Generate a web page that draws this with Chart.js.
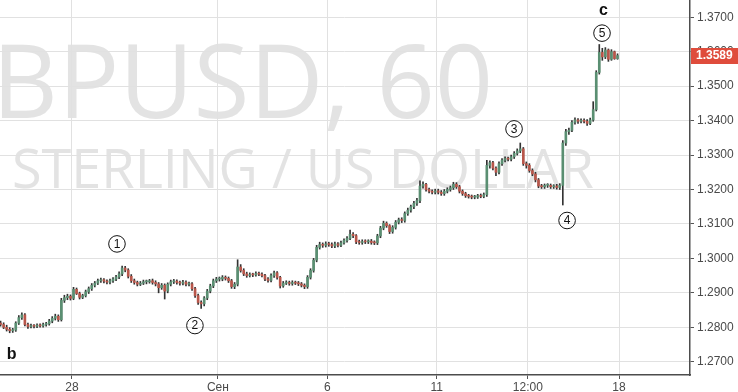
<!DOCTYPE html>
<html>
<head>
<meta charset="utf-8">
<script src="https://cdn.jsdelivr.net/npm/chart.js@4/dist/chart.umd.min.js"></script>
<style>
  html, body { margin: 0; padding: 0; background: #fff; }
  #chart { display: block; }
</style>
</head>
<body>
<canvas id="chart" width="738" height="392"></canvas>
<script>
// GBPUSD, 2-часовые свечи, 24 авг – 15 сен (торговое время, выходные убраны)
var firstOpen = 1.2812;
var closes = [
  1.2808, 1.2800, 1.2794, 1.2790, 1.2792, 1.2812, 1.2828, 1.2836, 1.2808, 1.2802, 1.2804, 1.2803, // 24 авг
  1.2806, 1.2804, 1.2808, 1.2810, 1.2818, 1.2826, 1.2832, 1.2822, 1.2878, 1.2886, 1.2890, 1.2884, // 25
  1.2910, 1.2898, 1.2887, 1.2892, 1.2903, 1.2912, 1.2922, 1.2928, 1.2935, 1.2938, 1.2934, 1.2931, // 28
  1.2935, 1.2940, 1.2946, 1.2955, 1.2972, 1.2966, 1.2948, 1.2935, 1.2930, 1.2925, 1.2928, 1.2932, // 29
  1.2932, 1.2935, 1.2930, 1.2926, 1.2915, 1.2922, 1.2905, 1.2925, 1.2932, 1.2934, 1.2930, 1.2928, // 30
  1.2931, 1.2925, 1.2926, 1.2912, 1.2892, 1.2872, 1.2868, 1.2885, 1.2905, 1.2920, 1.2935, 1.2940, // 31
  1.2940, 1.2945, 1.2942, 1.2935, 1.2918, 1.2925, 1.2975, 1.2965, 1.2955, 1.2950, 1.2953, 1.2952, // 1 сен
  1.2956, 1.2954, 1.2950, 1.2940, 1.2936, 1.2950, 1.2958, 1.2945, 1.2920, 1.2928, 1.2930, 1.2927, // 4
  1.2930, 1.2928, 1.2926, 1.2922, 1.2918, 1.2945, 1.2965, 1.2995, 1.3032, 1.3040, 1.3038, 1.3042, // 5
  1.3040, 1.3036, 1.3042, 1.3038, 1.3045, 1.3052, 1.3058, 1.3070, 1.3066, 1.3048, 1.3046, 1.3049, // 6
  1.3048, 1.3050, 1.3046, 1.3045, 1.3065, 1.3088, 1.3102, 1.3095, 1.3078, 1.3090, 1.3105, 1.3112, // 7
  1.3110, 1.3130, 1.3140, 1.3150, 1.3160, 1.3168, 1.3210, 1.3215, 1.3200, 1.3195, 1.3192, 1.3196, // 8
  1.3192, 1.3188, 1.3195, 1.3200, 1.3205, 1.3215, 1.3208, 1.3195, 1.3188, 1.3182, 1.3180, 1.3178, // 11
  1.3178, 1.3182, 1.3180, 1.3185, 1.3270, 1.3278, 1.3262, 1.3250, 1.3275, 1.3285, 1.3290, 1.3288, // 12
  1.3295, 1.3305, 1.3312, 1.3318, 1.3275, 1.3270, 1.3255, 1.3245, 1.3228, 1.3210, 1.3208, 1.3212, // 13
  1.3212, 1.3208, 1.3210, 1.3206, 1.3212, 1.3335, 1.3368, 1.3372, 1.3395, 1.3402, 1.3398, 1.3400, // 14
  1.3398, 1.3392, 1.3402, 1.3432, 1.3540, 1.3598, 1.3585, 1.3605, 1.3578, 1.3600, 1.3580, 1.3589  // 15
];
var highs = [
  1.2818, 1.2813, 1.2806, 1.2799, 1.2797, 1.2816, 1.2834, 1.2842, 1.2840, 1.2812, 1.2809, 1.2808,
  1.2810, 1.2810, 1.2812, 1.2814, 1.2823, 1.2831, 1.2838, 1.2836, 1.2884, 1.2893, 1.2896, 1.2894,
  1.2916, 1.2914, 1.2902, 1.2896, 1.2908, 1.2917, 1.2927, 1.2933, 1.2940, 1.2943, 1.2941, 1.2938,
  1.2940, 1.2944, 1.2951, 1.2961, 1.2978, 1.2977, 1.2970, 1.2953, 1.2940, 1.2934, 1.2933, 1.2937,
  1.2937, 1.2939, 1.2940, 1.2935, 1.2930, 1.2927, 1.2926, 1.2929, 1.2937, 1.2939, 1.2938, 1.2934,
  1.2936, 1.2935, 1.2931, 1.2930, 1.2916, 1.2896, 1.2877, 1.2889, 1.2910, 1.2925, 1.2940, 1.2945,
  1.2946, 1.2950, 1.2949, 1.2946, 1.2939, 1.2930, 1.2996, 1.2982, 1.2970, 1.2960, 1.2958, 1.2957,
  1.2961, 1.2960, 1.2958, 1.2954, 1.2944, 1.2955, 1.2963, 1.2962, 1.2948, 1.2933, 1.2935, 1.2934,
  1.2935, 1.2934, 1.2933, 1.2930, 1.2926, 1.2950, 1.2970, 1.3000, 1.3038, 1.3047, 1.3045, 1.3048,
  1.3047, 1.3045, 1.3047, 1.3046, 1.3050, 1.3057, 1.3063, 1.3082, 1.3075, 1.3069, 1.3053, 1.3054,
  1.3054, 1.3054, 1.3055, 1.3051, 1.3070, 1.3093, 1.3108, 1.3106, 1.3098, 1.3095, 1.3110, 1.3117,
  1.3118, 1.3135, 1.3146, 1.3155, 1.3166, 1.3174, 1.3225, 1.3222, 1.3218, 1.3204, 1.3199, 1.3201,
  1.3201, 1.3197, 1.3200, 1.3205, 1.3210, 1.3221, 1.3220, 1.3212, 1.3199, 1.3192, 1.3186, 1.3184,
  1.3183, 1.3186, 1.3187, 1.3190, 1.3285, 1.3283, 1.3282, 1.3266, 1.3280, 1.3290, 1.3295, 1.3294,
  1.3300, 1.3310, 1.3318, 1.3335, 1.3322, 1.3280, 1.3275, 1.3260, 1.3250, 1.3232, 1.3215, 1.3216,
  1.3217, 1.3216, 1.3214, 1.3215, 1.3217, 1.3342, 1.3375, 1.3378, 1.3400, 1.3408, 1.3406, 1.3405,
  1.3405, 1.3403, 1.3407, 1.3455, 1.3545, 1.3621, 1.3610, 1.3612, 1.3608, 1.3606, 1.3602, 1.3594
];
var lows = [
  1.2803, 1.2796, 1.2789, 1.2784, 1.2785, 1.2788, 1.2808, 1.2823, 1.2804, 1.2797, 1.2798, 1.2798,
  1.2799, 1.2800, 1.2800, 1.2803, 1.2806, 1.2813, 1.2821, 1.2817, 1.2818, 1.2872, 1.2880, 1.2879,
  1.2880, 1.2895, 1.2882, 1.2883, 1.2888, 1.2898, 1.2907, 1.2917, 1.2924, 1.2930, 1.2929, 1.2926,
  1.2926, 1.2930, 1.2935, 1.2941, 1.2950, 1.2961, 1.2943, 1.2930, 1.2925, 1.2920, 1.2921, 1.2924,
  1.2926, 1.2928, 1.2925, 1.2920, 1.2900, 1.2910, 1.2882, 1.2900, 1.2920, 1.2927, 1.2925, 1.2922,
  1.2923, 1.2920, 1.2920, 1.2907, 1.2887, 1.2866, 1.2855, 1.2862, 1.2880, 1.2900, 1.2915, 1.2930,
  1.2934, 1.2935, 1.2937, 1.2930, 1.2913, 1.2912, 1.2920, 1.2960, 1.2950, 1.2945, 1.2946, 1.2947,
  1.2948, 1.2950, 1.2946, 1.2935, 1.2931, 1.2932, 1.2945, 1.2940, 1.2914, 1.2916, 1.2924, 1.2922,
  1.2922, 1.2924, 1.2921, 1.2917, 1.2912, 1.2913, 1.2940, 1.2960, 1.2990, 1.3027, 1.3032, 1.3033,
  1.3035, 1.3031, 1.3031, 1.3033, 1.3034, 1.3041, 1.3047, 1.3054, 1.3060, 1.3043, 1.3041, 1.3041,
  1.3043, 1.3043, 1.3041, 1.3040, 1.3040, 1.3060, 1.3083, 1.3090, 1.3072, 1.3073, 1.3085, 1.3100,
  1.3104, 1.3105, 1.3125, 1.3134, 1.3144, 1.3154, 1.3162, 1.3204, 1.3195, 1.3190, 1.3187, 1.3187,
  1.3187, 1.3183, 1.3183, 1.3190, 1.3195, 1.3200, 1.3203, 1.3190, 1.3183, 1.3177, 1.3175, 1.3173,
  1.3173, 1.3174, 1.3176, 1.3176, 1.3180, 1.3262, 1.3257, 1.3240, 1.3245, 1.3270, 1.3280, 1.3283,
  1.3283, 1.3290, 1.3300, 1.3307, 1.3270, 1.3262, 1.3250, 1.3240, 1.3222, 1.3205, 1.3203, 1.3203,
  1.3206, 1.3203, 1.3203, 1.3201, 1.3200, 1.3155, 1.3328, 1.3360, 1.3368, 1.3390, 1.3392, 1.3393,
  1.3393, 1.3386, 1.3388, 1.3398, 1.3428, 1.3535, 1.3575, 1.3580, 1.3572, 1.3575, 1.3578, 1.3578
];
var candleStartHour = -48; // часы от 28 авг 00:00
var candleHours = 2;

// подписи осей
var xTickHours = [0, 96, 168, 240, 300, 360];
var xTickLabels = ['28', 'Сен', '6', '11', '12:00', '18'];
var yTickValues = [1.27, 1.28, 1.29, 1.30, 1.31, 1.32, 1.33, 1.34, 1.35, 1.36, 1.37];

// разметка волн
var waveLabels = ['1', '2', '3', '4', '5'];
var waveHours = [29.6, 80.9, 290.9, 325.8, 348.8];
var wavePrices = [1.3042, 1.2805, 1.3376, 1.3110, 1.3654];
var letterLabels = ['b', 'c'];
var letterHours = [-39.8, 349.8];
var letterPrices = [1.2722, 1.3718];

var watermarkTitle = 'GBPUSD, 60';
var watermarkName = 'STERLING / US DOLLAR';

// собираем свечи
var opens = closes.map(function(c, i) { return i === 0 ? firstOpen : closes[i - 1]; });
var candleX = closes.map(function(c, i) { return candleStartHour + candleHours * (i + 0.5); });
var wickData = closes.map(function(c, i) { return { x: candleX[i], y: [lows[i], highs[i]] }; });
var bodyData = closes.map(function(c, i) { return { x: candleX[i], y: [opens[i], c] }; });
var bodyColors = closes.map(function(c, i) { return c >= opens[i] ? '#5a8f72' : '#b9564a'; });

// водяной знак под сеткой
var watermarkPlugin = {
    id: 'watermark',
    beforeDraw: function(chart) {
        var ctx = chart.ctx;
        ctx.save();
        ctx.fillStyle = '#e3e3e3';
        ctx.textBaseline = 'alphabetic';
        ctx.textAlign = 'left';
        ctx.font = '102px "Open Sans"';
        var gWidth = ctx.measureText('G').width;
        ctx.fillText(watermarkTitle, -8 - gWidth, 118);
        ctx.font = '54px "Open Sans"';
        ctx.fillText(watermarkName, 12, 188);
        ctx.restore();
    }
};

// кружки с номерами волн, буквы и метка цены
var marksPlugin = {
    id: 'marks',
    afterDatasetsDraw: function(chart) {
        var ctx = chart.ctx;
        var xs = chart.scales.x, ys = chart.scales.y;
        ctx.save();
        ctx.strokeStyle = '#111';
        ctx.fillStyle = '#111';
        ctx.lineWidth = 1;
        ctx.textAlign = 'center';
        ctx.textBaseline = 'middle';
        ctx.font = '12px "Liberation Sans"';
        waveLabels.forEach(function(lbl, i) {
            var px = xs.getPixelForValue(waveHours[i]);
            var py = ys.getPixelForValue(wavePrices[i]);
            ctx.beginPath();
            ctx.arc(px, py, 8.3, 0, Math.PI * 2);
            ctx.stroke();
            ctx.fillText(lbl, px, py + 0.5);
        });
        ctx.font = 'bold 16px "Liberation Sans"';
        letterLabels.forEach(function(lbl, i) {
            ctx.fillText(lbl, xs.getPixelForValue(letterHours[i]), ys.getPixelForValue(letterPrices[i]));
        });
        ctx.restore();
    },
    afterDraw: function(chart) {
        var ctx = chart.ctx;
        var area = chart.chartArea;
        var last = closes[closes.length - 1];
        var py = chart.scales.y.getPixelForValue(last);
        ctx.save();
        ctx.fillStyle = '#df4c3c';
        ctx.fillRect(area.right + 1, Math.round(py) - 8, chart.width - area.right - 1, 16);
        ctx.fillStyle = '#fff';
        ctx.font = 'bold 12px "Liberation Sans"';
        ctx.textAlign = 'left';
        ctx.textBaseline = 'middle';
        ctx.fillText(last.toFixed(4), area.right + 6, Math.round(py));
        ctx.restore();
    }
};

// убираем автоматические отступы осей, чтобы область графика шла до краёв
function noPadding(scale) {
    scale.paddingTop = 0;
    scale.paddingBottom = 0;
    scale.paddingLeft = 0;
    scale.paddingRight = 0;
}

var ctx = document.getElementById('chart').getContext('2d');
window.myChart = new Chart(ctx, {
    type: 'bar',
    data: {
        datasets: [{
            data: wickData,
            backgroundColor: '#333333',
            barThickness: 1,
            grouped: false,
            order: 2
        }, {
            data: bodyData,
            backgroundColor: bodyColors,
            barThickness: 2,
            minBarLength: 1,
            grouped: false,
            order: 1
        }]
    },
    options: {
        responsive: false,
        animation: false,
        devicePixelRatio: 1,
        layout: { padding: 0 },
        plugins: {
            legend: { display: false },
            tooltip: { enabled: false }
        },
        scales: {
            x: {
                type: 'linear',
                min: -47.38,
                max: 406.7,
                offset: false,
                grid: { offset: false, color: '#e1e1e1', tickColor: '#555', tickLength: 4 },
                border: { color: '#4d4d4d', width: 1.5 },
                ticks: {
                    autoSkip: false,
                    maxRotation: 0,
                    padding: 1,
                    color: '#4a4a4a',
                    font: { family: '"Liberation Sans"', size: 12 },
                    callback: function(value, index) { return xTickLabels[index]; }
                },
                afterBuildTicks: function(scale) {
                    scale.ticks = xTickHours.map(function(v) { return { value: v }; });
                },
                afterFit: function(scale) { scale.height = 17; noPadding(scale); }
            },
            y: {
                position: 'right',
                min: 1.26614,
                max: 1.37502,
                grid: { color: '#e1e1e1', tickColor: '#555', tickLength: 4 },
                border: { color: '#4d4d4d', width: 1.5 },
                ticks: {
                    padding: 3,
                    color: '#4a4a4a',
                    font: { family: '"Liberation Sans"', size: 12 },
                    callback: function(value) { return value.toFixed(4); }
                },
                afterBuildTicks: function(scale) {
                    scale.ticks = yTickValues.map(function(v) { return { value: v }; });
                },
                afterFit: function(scale) { scale.width = 48; noPadding(scale); }
            }
        }
    },
    plugins: [watermarkPlugin, marksPlugin]
});
</script>
</body>
</html>
